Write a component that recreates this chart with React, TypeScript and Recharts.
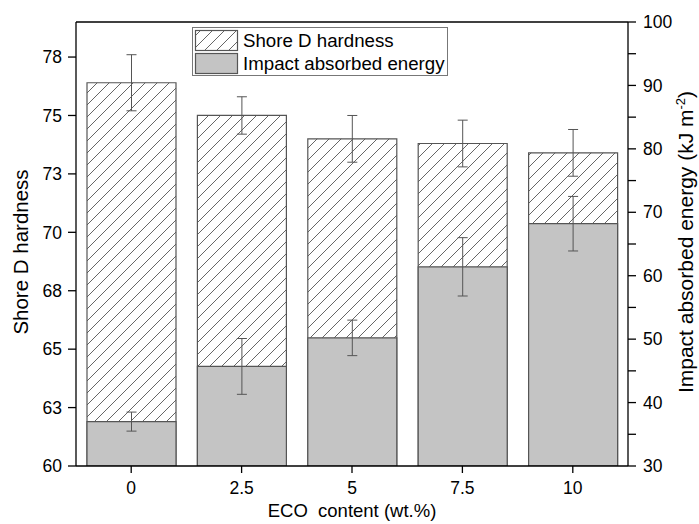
import { Bar, ComposedChart, ErrorBar, Label, Legend, ReferenceLine, XAxis, YAxis } from "recharts";

// ECO content categories (wt.%)
const ecoContent = ["0", "2.5", "5", "7.5", "10"];
// Shore D hardness (left axis) and its error
const hardness = [76.4, 75.0, 74.0, 73.8, 73.4];
const hardnessErr = [1.2, 0.8, 1.0, 1.0, 1.0];
// Impact absorbed energy, kJ m-2 (right axis) and its error
const impactEnergy = [37.0, 45.7, 50.2, 61.4, 68.2];
const impactErr = [1.5, 4.4, 2.8, 4.6, 4.3];
// axis ticks
const hardnessTicks = [60, 62.5, 65, 67.5, 70, 72.5, 75, 77.5];
const energyTicks = [30, 35, 40, 45, 50, 55, 60, 65, 70, 75, 80, 85, 90, 95, 100];

const data = ecoContent.map((eco, i) => ({
  eco,
  hardness: hardness[i],
  hardnessErr: hardnessErr[i],
  energy: impactEnergy[i],
  energyErr: impactErr[i],
}));

const FONT = "'Liberation Sans', Arial, sans-serif";
const BAR_STROKE = "#555";
const GRAY = "#c4c4c4";
const TICK_SIZE = 17.5;

function HatchLegend() {
  return (
    <svg width={256} height={49} style={{ display: "block", fontFamily: FONT }}>
      <defs>
        <pattern id="hatchLegend" patternUnits="userSpaceOnUse" width="12" height="12">
          <path d="M-3,3 l6,-6 M0,12 l12,-12 M9,15 l6,-6" stroke="#555" strokeWidth={0.9} />
        </pattern>
      </defs>
      <rect x={0.5} y={0.5} width={255} height={48} fill="#fff" stroke="#777" />
      <rect x={3.5} y={3.5} width={42} height={20} fill="url(#hatchLegend)" stroke={BAR_STROKE} strokeWidth={1.2} />
      <rect x={3.5} y={26.5} width={42} height={20} fill={GRAY} stroke={BAR_STROKE} strokeWidth={1.2} />
      <text x={51} y={19.5} fontSize={18.7} fill="#000">Shore D hardness</text>
      <text x={51} y={42.5} fontSize={18.7} fill="#000">Impact absorbed energy</text>
    </svg>
  );
}

export default function App() {
  return (
    <div style={{ position: "absolute", left: 0, top: 0, background: "#fff" }}>
      <ComposedChart
        width={699}
        height={524}
        data={data}
        margin={{ top: 22, right: 0, bottom: 0, left: 0 }}
        style={{ fontFamily: FONT }}
      >
        <defs>
          <pattern id="hatch" patternUnits="userSpaceOnUse" width="12" height="12">
            <path d="M-3,3 l6,-6 M0,12 l12,-12 M9,15 l6,-6" stroke="#555" strokeWidth={0.9} />
          </pattern>
        </defs>
        <XAxis
          xAxisId="a"
          dataKey="eco"
          height={58}
          stroke="#000"
          strokeWidth={1.3}
          tickSize={7}
          tickMargin={9}
          tick={{ fill: "#000", fontSize: TICK_SIZE }}
        >
          <Label
            content={() => (
              <text x={352} y={517} textAnchor="middle" fontSize={18.5} fill="#000" style={{ whiteSpace: "pre" }}>
                {"ECO  content (wt.%)"}
              </text>
            )}
          />
        </XAxis>
        <XAxis xAxisId="b" dataKey="eco" hide />
        <YAxis
          yAxisId="left"
          orientation="left"
          width={76}
          domain={[60, 79]}
          ticks={hardnessTicks}
          interval={0}
          allowDataOverflow
          tickFormatter={(v: number) => String(Math.round(v))}
          stroke="#000"
          strokeWidth={1.3}
          tickSize={8}
          tickMargin={6}
          tick={{ fill: "#000", fontSize: TICK_SIZE }}
        >
          <Label
            content={() => (
              <text x={28} y={252} transform="rotate(-90 28 252)" textAnchor="middle" fontSize={20.5} fill="#000">
                Shore D hardness
              </text>
            )}
          />
        </YAxis>
        <YAxis
          yAxisId="right"
          orientation="right"
          width={71}
          domain={[30, 100]}
          ticks={energyTicks}
          interval={0}
          allowDataOverflow
          tickFormatter={(v: number) => (v % 10 === 0 ? String(v) : "")}
          stroke="#000"
          strokeWidth={1.3}
          tickSize={8}
          tickMargin={7}
          tick={{ fill: "#000", fontSize: TICK_SIZE }}
        >
          <Label
            content={() => (
              <text x={693} y={242} transform="rotate(-90 693 242)" textAnchor="middle" fontSize={21} fill="#000">
                Impact absorbed energy (kJ m
                <tspan dy={-8} fontSize={13}>-2</tspan>
                <tspan dy={8}>)</tspan>
              </text>
            )}
          />
        </YAxis>
        {/* top frame line */}
        <ReferenceLine yAxisId="left" xAxisId="a" y={79} stroke="#000" strokeWidth={1.3} />
        <Legend
          verticalAlign="middle"
          align="center"
          wrapperStyle={{ top: 27, left: 192, width: 256, height: 49 }}
          content={() => <HatchLegend />}
        />
        <Bar
          xAxisId="a"
          yAxisId="left"
          dataKey="hardness"
          barSize={89}
          fill="url(#hatch)"
          stroke={BAR_STROKE}
          strokeWidth={1.2}
          isAnimationActive={false}
        >
          <ErrorBar dataKey="hardnessErr" direction="y" width={5} stroke="#555" strokeWidth={1} />
        </Bar>
        <Bar
          xAxisId="b"
          yAxisId="right"
          dataKey="energy"
          barSize={89}
          fill={GRAY}
          stroke={BAR_STROKE}
          strokeWidth={1.2}
          isAnimationActive={false}
        >
          <ErrorBar dataKey="energyErr" direction="y" width={5} stroke="#555" strokeWidth={1} />
        </Bar>
      </ComposedChart>
    </div>
  );
}
